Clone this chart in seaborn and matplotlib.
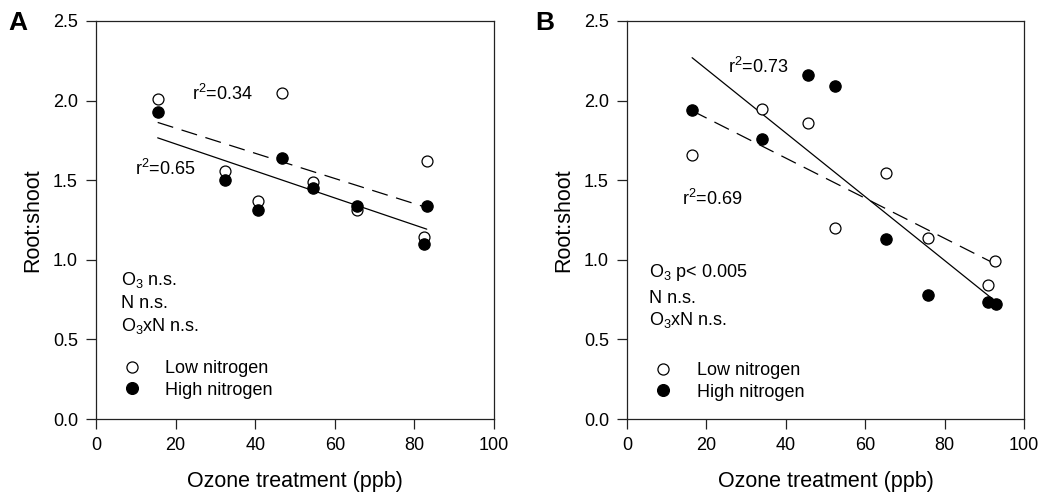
import matplotlib
matplotlib.use("Agg")
import matplotlib.pyplot as plt
from matplotlib.lines import Line2D
import pandas as pd
import seaborn as sns

# Panel A – root:shoot ratio against ozone exposure
ozone_a_low = [15.5, 32.5, 40.7, 46.7, 54.4, 65.5, 82.4, 83.1]
ratio_a_low = [2.01, 1.56, 1.37, 2.05, 1.49, 1.31, 1.145, 1.62]
ozone_a_high = [15.5, 32.5, 40.7, 46.7, 54.4, 65.5, 82.4, 83.1]
ratio_a_high = [1.93, 1.50, 1.31, 1.64, 1.45, 1.34, 1.10, 1.34]

# Panel B
ozone_b_low = [16.4, 34.1, 45.5, 52.3, 65.2, 75.7, 90.9, 92.7]
ratio_b_low = [1.66, 1.95, 1.86, 1.20, 1.545, 1.135, 0.84, 0.995]
ozone_b_high = [16.4, 34.1, 45.5, 52.3, 65.2, 75.7, 90.9, 92.9]
ratio_b_high = [1.94, 1.756, 2.16, 2.09, 1.13, 0.78, 0.735, 0.72]

series_labels = ["Low nitrogen", "High nitrogen"]
x_ticks = [0, 20, 40, 60, 80, 100]
y_ticks = [0.0, 0.5, 1.0, 1.5, 2.0, 2.5]

sns.set_theme(style="ticks")
plt.rcParams["font.family"] = ["Liberation Sans", "DejaVu Sans"]
plt.rcParams["text.color"] = "black"
plt.rcParams["axes.labelcolor"] = "black"
plt.rcParams["mathtext.fontset"] = "custom"
plt.rcParams["mathtext.rm"] = "Liberation Sans"
plt.rcParams["mathtext.it"] = "Liberation Sans:italic"

TICK_FS = 13
ANN_FS = 13
LABEL_FS = 15.5
DASH = (13, 7)

fig = plt.figure(figsize=(10.43, 4.97), dpi=100)
ax_a = fig.add_axes([96 / 1043, 1 - 419 / 497, 398 / 1043, 398 / 497])
ax_b = fig.add_axes([627 / 1043, 1 - 419 / 497, 397 / 1043, 398 / 497])


def draw_panel(ax, xl, yl, xh, yh):
    low = pd.DataFrame({"ozone": xl, "ratio": yl})
    high = pd.DataFrame({"ozone": xh, "ratio": yh})
    # fitted regressions: dashed for low N, solid for high N
    sns.regplot(data=low, x="ozone", y="ratio", ax=ax, scatter=False, ci=None,
                line_kws=dict(color="black", lw=0.9, dashes=DASH))
    sns.regplot(data=high, x="ozone", y="ratio", ax=ax, scatter=False, ci=None,
                line_kws=dict(color="black", lw=0.9))
    sns.scatterplot(data=low, x="ozone", y="ratio", ax=ax, marker="o", s=62,
                    facecolor="white", edgecolor="black", linewidth=0.9, zorder=3)
    sns.scatterplot(data=high, x="ozone", y="ratio", ax=ax, marker="o", s=66,
                    color="black", edgecolor="black", linewidth=0.9, zorder=4)
    ax.set_xlim(0, 100)
    ax.set_ylim(0, 2.5)
    ax.set_xticks(x_ticks)
    ax.set_yticks(y_ticks)
    ax.set_yticklabels([f"{v:.1f}" for v in y_ticks])
    ax.tick_params(axis="both", direction="out", length=7, width=0.9,
                   colors="#222222", labelcolor="black", labelsize=TICK_FS)
    ax.tick_params(axis="x", pad=6)
    ax.tick_params(axis="y", pad=6)
    ax.tick_params(top=False, right=False)
    for sp in ax.spines.values():
        sp.set_visible(True)
        sp.set_linewidth(0.9)
        sp.set_color("#222222")
    ax.set_xlabel("Ozone treatment (ppb)", fontsize=LABEL_FS, labelpad=12)
    ax.set_ylabel("Root:shoot", fontsize=LABEL_FS, labelpad=7)

    handles = [
        Line2D([], [], ls="none", marker="o", ms=8, mfc="white", mec="black", mew=0.9),
        Line2D([], [], ls="none", marker="o", ms=8.5, mfc="black", mec="black", mew=0.9),
    ]
    return handles


h = draw_panel(ax_a, ozone_a_low, ratio_a_low, ozone_a_high, ratio_a_high)
draw_panel(ax_b, ozone_b_low, ratio_b_low, ozone_b_high, ratio_b_high)

# Panel A annotations
ax_a.text(24.0, 2.04, r"r$^\mathregular{2}$=0.34", fontsize=ANN_FS, va="center")
ax_a.text(9.8, 1.57, r"r$^\mathregular{2}$=0.65", fontsize=ANN_FS, va="center")
ax_a.text(6.4, 0.87, r"O$_\mathregular{3}$ n.s.", fontsize=ANN_FS, va="center")
ax_a.text(6.4, 0.725, "N n.s.", fontsize=ANN_FS, va="center")
ax_a.text(6.4, 0.585, r"O$_\mathregular{3}$xN n.s.", fontsize=ANN_FS, va="center")

# Panel B annotations
ax_b.text(25.5, 2.21, r"r$^\mathregular{2}$=0.73", fontsize=ANN_FS, va="center")
ax_b.text(13.8, 1.38, r"r$^\mathregular{2}$=0.69", fontsize=ANN_FS, va="center")
ax_b.text(5.5, 0.92, r"O$_\mathregular{3}$ p< 0.005", fontsize=ANN_FS, va="center")
ax_b.text(5.5, 0.755, "N n.s.", fontsize=ANN_FS, va="center")
ax_b.text(5.5, 0.62, r"O$_\mathregular{3}$xN n.s.", fontsize=ANN_FS, va="center")

for ax, anchor in ((ax_a, (0.067, 0.148)), (ax_b, (0.069, 0.143))):
    ax.legend(h, series_labels, loc="upper left", bbox_to_anchor=anchor,
              frameon=False, fontsize=ANN_FS, handlelength=1.0, handletextpad=1.35,
              labelspacing=0.25, borderpad=0, borderaxespad=0)

fig.text(8 / 1043, 1 - 23 / 497, "A", fontsize=19, fontweight="bold", va="center", ha="left")
fig.text(535 / 1043, 1 - 23 / 497, "B", fontsize=19, fontweight="bold", va="center", ha="left")

fig.savefig("out.png", dpi=100)
